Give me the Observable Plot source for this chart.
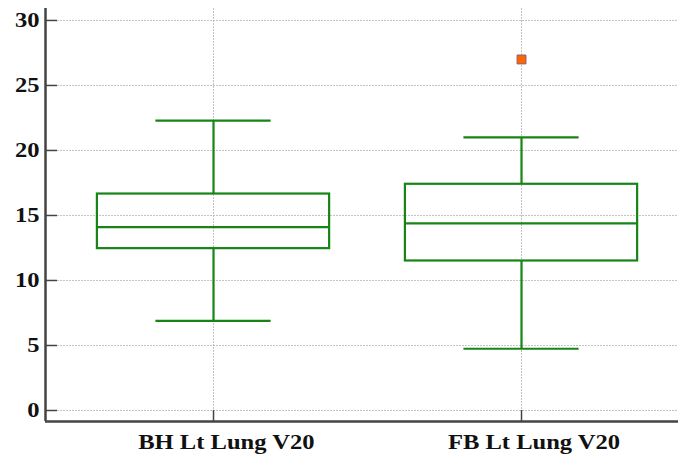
<!DOCTYPE html>
<html>
<head>
<meta charset="utf-8">
<script src="https://cdn.jsdelivr.net/npm/d3@7"></script>
<script src="https://cdn.jsdelivr.net/npm/@observablehq/plot@0.6"></script>
<style>
  html, body { margin: 0; padding: 0; background: #fff; }
  #chart svg { display: block; }
</style>
</head>
<body>
<div id="chart"></div>
<script>
const categories = ["BH Lt Lung V20", "FB Lt Lung V20"];
const positions = [1, 2];
const whiskerLow = [6.9, 4.75];
const q1 = [12.45, 11.5];
const median = [14.1, 14.4];
const q3 = [16.65, 17.4];
const whiskerHigh = [22.3, 21.0];
const outlierCategory = ["FB Lt Lung V20"];
const outlierValue = [27.0];
const yTicks = [0, 5, 10, 15, 20, 25, 30];

const boxes = categories.map((c, i) => ({
  cat: c, x: positions[i], lo: whiskerLow[i], q1: q1[i], med: median[i], q3: q3[i], hi: whiskerHigh[i]
}));
const outliers = outlierCategory.map((c, i) => ({x: positions[categories.indexOf(c)], y: outlierValue[i]}));

const halfBox = 0.377, halfCap = 0.187;
const xDomain = [0.4545, 2.5097];
const yDomain = [-0.846, 30.92];
const green = "#168516";
const font = "'Liberation Serif', 'Times New Roman', serif";

const chart = Plot.plot({
  width: 678,
  height: 454,
  marginLeft: 45,
  marginRight: 0,
  marginTop: 8,
  marginBottom: 33,
  style: {fontFamily: font, fontWeight: "bold", fontSize: "21px", color: "#111", background: "#fff"},
  x: {type: "linear", domain: xDomain},
  y: {domain: yDomain},
  marks: [
    Plot.gridY(yTicks, {stroke: "#aaa", strokeOpacity: 0.7, strokeDasharray: "2,1"}),
    Plot.gridX(positions, {stroke: "#aaa", strokeOpacity: 0.7, strokeDasharray: "2,1"}),
    Plot.axisY(yTicks, {tickSize: -12, tickPadding: 18, stroke: "#444", strokeWidth: 1.5, label: null, fontSize: 21, fontWeight: "bold"}),
    Plot.axisX(positions, {tickSize: -11, tickPadding: 24, stroke: "#444", strokeWidth: 1.5, label: null, tickFormat: (d) => categories[positions.indexOf(d)], fontSize: 21, fontWeight: "bold"}),
    Plot.ruleX([xDomain[0]], {stroke: "#444", strokeWidth: 2.5}),
    Plot.ruleY([yDomain[0]], {stroke: "#444", strokeWidth: 2.5}),
    Plot.ruleX(boxes, {x: "x", y1: "q3", y2: "hi", stroke: green, strokeWidth: 2.2}),
    Plot.ruleX(boxes, {x: "x", y1: "lo", y2: "q1", stroke: green, strokeWidth: 2.2}),
    Plot.ruleY(boxes, {y: "hi", x1: (d) => d.x - halfCap, x2: (d) => d.x + halfCap, stroke: green, strokeWidth: 2.2}),
    Plot.ruleY(boxes, {y: "lo", x1: (d) => d.x - halfCap, x2: (d) => d.x + halfCap, stroke: green, strokeWidth: 2.2}),
    Plot.rect(boxes, {x1: (d) => d.x - halfBox, x2: (d) => d.x + halfBox, y1: "q1", y2: "q3", fill: "none", stroke: green, strokeWidth: 2.2}),
    Plot.ruleY(boxes, {y: "med", x1: (d) => d.x - halfBox, x2: (d) => d.x + halfBox, stroke: green, strokeWidth: 2.2}),
    Plot.dot(outliers, {x: "x", y: "y", symbol: "square", r: 5, fill: "#ff6600", stroke: "#8a5a7a", strokeWidth: 1})
  ]
});
document.getElementById("chart").append(chart);

// widen the glyphs horizontally (the reference text is stretched), keeping each label's anchor fixed
const stretch = 1.17;
chart.querySelectorAll("text").forEach((t) => {
  const b = t.getBBox();
  const anchor = t.getAttribute("text-anchor") || t.parentNode.getAttribute("text-anchor") || "start";
  const ax = anchor === "end" ? b.x + b.width : anchor === "middle" ? b.x + b.width / 2 : b.x;
  const prev = t.getAttribute("transform") || "";
  t.setAttribute("transform", `${prev} translate(${ax},0) scale(${stretch},1) translate(${-ax},0)`);
});
</script>
</body>
</html>
